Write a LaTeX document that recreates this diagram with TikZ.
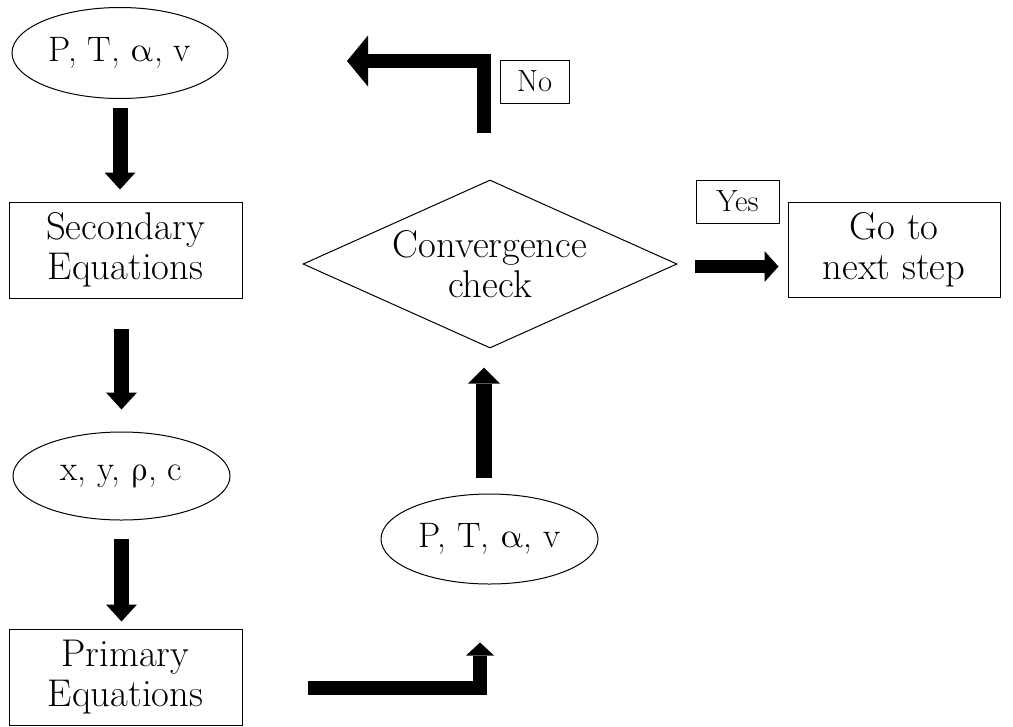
\documentclass[tikz,border=0pt]{standalone}
\usepackage{unicode-math}
\setmathfont{Latin Modern Math}
\newcommand{\gra}{$\symup{\alpha}$}
\newcommand{\grr}{$\symup{\rho}$}
\usetikzlibrary{shapes.geometric,arrows.meta}
\begin{document}
\begin{tikzpicture}[x=0.75pt,y=-0.75pt,
  every node/.style={font=\fontsize{29}{30}\selectfont, align=center, inner sep=0pt, line width=0.75pt},
  ell/.style={draw, ellipse, minimum width=162.75pt, minimum height=67.5pt, font=\fontsize{26.5}{30}\selectfont},
  boxnode/.style={draw, rectangle, minimum width=174.75pt, minimum height=72pt},
  lbl/.style={draw, rectangle, minimum height=32.25pt, font=\fontsize{23}{26}\selectfont},
  blk/.style={line width=11.25pt, line join=miter, -{Triangle[width=23.25pt,length=12.75pt,line width=0pt]}},
]
\useasboundingbox (0,0) rectangle (1013,726);

% nodes
\node[ell, minimum width=162pt, minimum height=68.25pt] (e1) at (120,53) {P, T, \gra, v};
\node[boxnode] (sec) at (125.5,250) {Secondary\\Equations};
\node[ell, minimum height=66pt] (e2) at (121.5,476) {x, y, \grr, c};
\node[boxnode] (prim) at (125.5,677) {Primary\\Equations};
\node[ell] (e3) at (489.5,539) {P, T, \gra, v};
\node[draw, diamond, aspect=2.2, minimum width=280.5pt, minimum height=126pt] (conv) at (490,264) {Convergence\\check};
\node[boxnode, minimum width=159pt, minimum height=71.25pt] (go) at (894,249.5) {Go to\\next step};
\node[lbl, minimum width=51.75pt] (no) at (534.5,81.5) {No};
\node[lbl, minimum width=62.25pt] (yes) at (737.5,201.5) {Yes};

% free ends
\coordinate (a4s) at (308,687.5);
\coordinate (a6s) at (483.5,133);
\coordinate (a6e) at (347,61);
\coordinate (a7s) at (677,266.5);
\coordinate (a5s) at (484,494);

% connectors
\draw[blk, shorten <=6.4pt, shorten >=9pt] (e1.south) -- (e1.south |- sec.north);
\draw[blk, shorten <=22.5pt, shorten >=16.5pt] (e2.north |- sec.south) -- (e2.north);
\draw[blk, shorten <=13.5pt, shorten >=5.25pt] (e2.south) -- (e2.south |- prim.north);
\draw[blk, line width=10.5pt, -{Triangle[width=21pt,length=9.75pt,line width=0pt]}, shorten >=43.5pt]
  (a4s) -| ([xshift=-7.1pt]e3.south);
\draw[blk, line width=12pt, -{Triangle[width=24pt,length=12pt,line width=0pt]}, shorten <=12pt, shorten >=14.25pt]
  (a5s) -- (a5s |- conv.south);
\draw[blk, line width=10.5pt, -{Triangle[width=38.25pt,length=15.75pt,line width=0pt]}]
  (a6s) |- (a6e);
\draw[blk, line width=9.75pt, -{Triangle[width=23.25pt,length=10.5pt,line width=0pt]}, shorten <=13.5pt, shorten >=6.75pt]
  (a7s) -- (a7s -| go.west);
\end{tikzpicture}
\end{document}
